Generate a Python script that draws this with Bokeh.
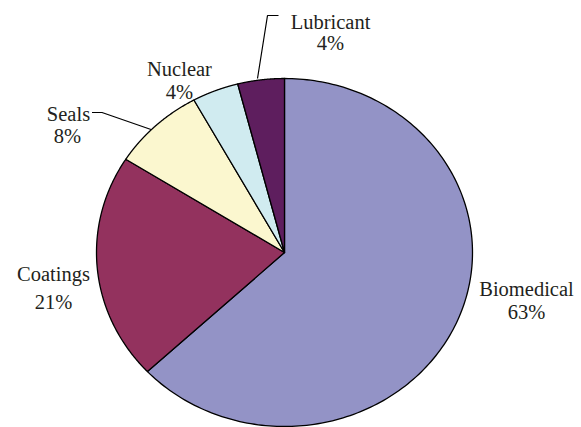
import numpy as np
from bokeh.plotting import figure
from bokeh.models import Range1d, ColumnDataSource
from bokeh.core.properties import value
from bokeh.embed import file_html
from bokeh.resources import INLINE

# ---- data ----
categories = ["Biomedical", "Coatings", "Seals", "Nuclear", "Lubricant"]
percents = [63, 21, 8, 4, 4]
colors = ["#9393C6", "#93325E", "#FBF7CF", "#D0EBF0", "#5E1E5E"]

# ---- layout (pixel coordinates, y downward) ----
W, H = 581, 427
cx, cy, rx, ry = 284.0, 252.0, 188.0, 174.0
name_pos = {"Biomedical": (526, 288), "Coatings": (53, 273.5), "Seals": (68, 113.5),
            "Nuclear": (179, 68.5), "Lubricant": (330, 21)}
pct_pos = {"Biomedical": (526, 311), "Coatings": (53, 301), "Seals": (67, 135),
           "Nuclear": (179, 91), "Lubricant": (330, 42.5)}
leaders = {"Seals": ([91.5, 101.5, 150.5], [112, 112, 129]),
           "Lubricant": ([278, 267, 257], [15, 15, 78])}

p = figure(width=W, height=H, output_backend="svg", toolbar_location=None,
           x_range=Range1d(0, W), y_range=Range1d(H, 0),
           min_border=0, border_fill_color="white", outline_line_color=None)
p.axis.visible = False
p.grid.visible = False

# pie slices computed from the data (clockwise from 12 o'clock)
frac = np.array(percents, dtype=float) / sum(percents)
ends = np.cumsum(frac)
starts = ends - frac
xs, ys = [], []
for s, e in zip(starts, ends):
    t = np.linspace(s, e, 200)
    ang = np.pi / 2 - 2 * np.pi * t
    xs.append(np.concatenate([[cx], cx + rx * np.cos(ang), [cx]]).tolist())
    ys.append(np.concatenate([[cy], cy - ry * np.sin(ang), [cy]]).tolist())

src = ColumnDataSource(dict(xs=xs, ys=ys, color=colors, cat=categories))
p.patches("xs", "ys", source=src, fill_color="color", line_color="black",
          line_width=1.3, line_join="round")

# leader lines
for k, (lx, ly) in leaders.items():
    p.line(lx, ly, line_color="black", line_width=1.2)

# labels
tx, ty, tt = [], [], []
for c, v in zip(categories, percents):
    tx += [name_pos[c][0], pct_pos[c][0]]
    ty += [name_pos[c][1], pct_pos[c][1]]
    tt += [c, f"{v}%"]
p.text(x=tx, y=ty, text=tt, text_font=value("Liberation Serif"),
       text_font_size="20.5px", text_color="#231F20",
       text_align="center", text_baseline="alphabetic")

open("out.html", "w").write(file_html(p, INLINE))
